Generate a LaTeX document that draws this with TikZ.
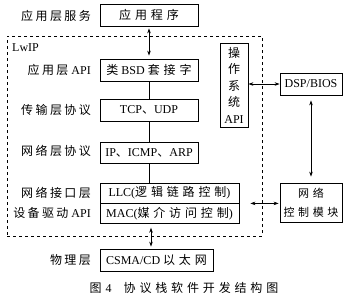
\documentclass[tikz,border=0pt]{standalone}
\usepackage{fontspec}
\setmainfont{Liberation Serif}
\newfontfamily\zh{Noto Sans CJK SC}[LetterSpace=20]
\newfontfamily\zhw{Noto Sans CJK SC}[LetterSpace=32]
\newfontfamily\zhn{Noto Sans CJK SC}
\usetikzlibrary{arrows.meta}

\tikzset{
  blk/.style={draw,line width=0.8pt,inner sep=0pt,minimum height=22pt},
  lbl/.style={anchor=east,inner sep=0pt},
  conn/.style={line width=0.6pt},
  dbl/.style={conn,{Stealth[length=5pt,width=3.5pt]}-{Stealth[length=5pt,width=3.5pt]}},
}

\begin{document}
\begin{tikzpicture}[x=1pt,y=-1pt,font=\fontsize{12}{13}\selectfont]
\useasboundingbox (0,0) rectangle (350,301);
% LwIP frame
\node[draw,dashed,dash pattern=on 3pt off 3pt,line width=0.8pt,minimum width=255pt,minimum height=200pt,inner sep=0pt] (lwip) at (134.5,136) {};
\node[anchor=west,inner sep=0pt] (lwiplbl) at (12,48) {LwIP};
% stack
\node[blk,minimum width=98pt] (app) at (149,15) {{\zhw 应用程序}};
\node[blk,minimum width=98pt] (bsd) at (149,70) {{\zhw 类} BSD {\zhw 套接字}};
\node[blk,minimum width=98pt] (tcp) at (149,110) {TCP{\zhn 、}UDP};
\node[blk,minimum width=98pt,minimum height=21pt] (ip) at (149,152.5) {IP{\zhn 、}ICMP{\zhn 、}ARP};
\node[blk,minimum width=139pt,minimum height=20pt] (llc) at (169.5,193) {LLC({\zhw 逻辑链路控制})};
\node[blk,minimum width=139pt,minimum height=19.5pt,anchor=north] (mac) at (llc.south) {MAC({\zhw 媒介访问控制})};
\node[blk,minimum width=113pt] (csma) at (156.5,260) {CSMA/CD {\zhw 以太网}};
% side blocks
\node[blk,minimum width=28pt,minimum height=84pt,align=center,font=\fontsize{12}{16.5}\selectfont] (osapi) at (234,85) {{\zhn 操}\\{\zhn 作}\\{\zhn 系}\\{\zhn 统}\\API};
\node[blk,minimum width=62pt] (dsp) at (311,84) {DSP/BIOS};
\node[blk,minimum width=62pt,minimum height=39pt,align=center,font=\fontsize{11}{19}\selectfont] (net) at (311,202.5) {{\zhw 网络}\\{\zhw 控制模块}};
% layer names
\node[lbl] (l1) at (91,16) {{\zh 应用层服务}};
\node[lbl] (l2) at (91,70) {{\zh 应用层} API};
\node[lbl] (l3) at (91,110) {{\zh 传输层协议}};
\node[lbl] (l4) at (91,151) {{\zh 网络层协议}};
\node[lbl] (l5) at (91,193) {{\zh 网络接口层}};
\node[lbl] (l6) at (91,213) {{\zh 设备驱动} API};
\node[lbl] (l7) at (91,260) {{\zh 物理层}};
% caption
\node (cap) at (184,288) {{\zhw 图}\hspace{4pt}4\hspace{12pt}{\zhw 协议栈软件开发结构图}};
% connectors
\draw[dbl,shorten <=2pt,shorten >=3pt] (app) -- (bsd);
\draw[conn] (bsd) -- (tcp);
\draw[conn] (tcp) -- (ip);
\draw[conn] (ip.south) -- (ip.south |- llc.north);
\draw[dbl,shorten <=4pt,shorten >=2pt] ([xshift=2pt]ip.south |- mac.south) -- ([xshift=2pt]ip.south |- csma.north);
\draw[dbl] (osapi.east |- dsp.west) -- (dsp.west);
\draw[dbl,shorten <=5pt,shorten >=6pt] (dsp.south) -- (dsp.south |- net.north);
\draw[dbl,shorten <=11pt,shorten >=1pt] (llc.south east) -- (net.west |- llc.south east);
\end{tikzpicture}
\end{document}
